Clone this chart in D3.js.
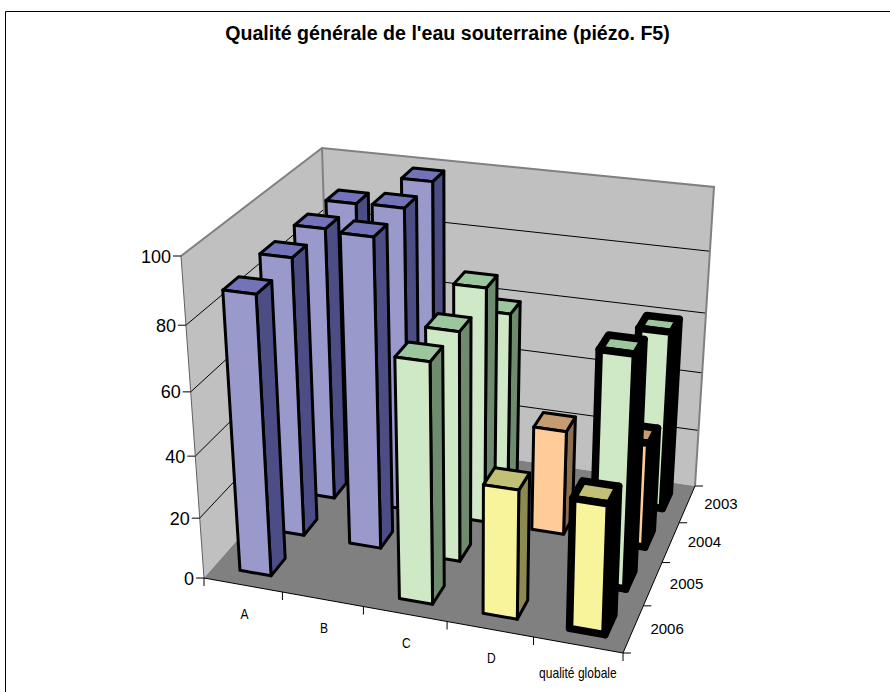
<!DOCTYPE html>
<html>
<head>
<meta charset="utf-8">
<script src="https://cdnjs.cloudflare.com/ajax/libs/d3/7.8.5/d3.min.js"></script>
<style>
html,body{margin:0;padding:0;background:#fff}
svg{display:block}
text{font-family:"Liberation Sans",Arial,sans-serif;fill:#000}
</style>
</head>
<body>
<svg id="chart"></svg>
<script>
const width = 890, height = 692;

const title = "Qualité générale de l'eau souterraine (piézo. F5)";
const categories = ['A', 'B', 'C', 'D', 'qualité globale'];
const years = ['2006', '2005', '2004', '2003'];   // front to back
const valueTicks = [0, 20, 40, 60, 80, 100];

// one value per category, null = no bar
const values2003 = [89.5, 99, 59.5, null, 60];
const values2004 = [90, 99, 77.5, 35, 35];
const values2005 = [90, 99, 74, null, 74];
const values2006 = [88.5, null, 75.5, 41, 41];

// water quality class per category
const class2003 = ['bleu', 'bleu', 'vert', null, 'vert'];
const class2004 = ['bleu', 'bleu', 'vert', 'orange', 'orange'];
const class2005 = ['bleu', 'bleu', 'vert', null, 'vert'];
const class2006 = ['bleu', null, 'vert', 'jaune', 'jaune'];

const valuesByYear = {2003: values2003, 2004: values2004, 2005: values2005, 2006: values2006};
const classByYear = {2003: class2003, 2004: class2004, 2005: class2005, 2006: class2006};

const classes = ['bleu', 'vert', 'jaune', 'orange'];
const frontColor = d3.scaleOrdinal().domain(classes).range(['#9999cc', '#cfe8c6', '#f8f49c', '#ffcc99']);
const topColor = d3.scaleOrdinal().domain(classes).range(['#7373b9', '#9cc79e', '#c2c076', '#c49c70']);
const sideColor = d3.scaleOrdinal().domain(classes).range(['#4d4d85', '#6e8b6e', '#8c8a50', '#8c6e50']);

const svg = d3.select('#chart').attr('width', width).attr('height', height);

// the box: corners of the floor and of the 100 plane, as seen on screen
const floorQuad = [[204, 578], [623, 653], [695, 486], [331, 433]];
const topQuad = [[181, 256], [636, 312], [714, 187], [322, 148]];

// unit square -> quad
function homography(q) {
    const [p0, p1, p2, p3] = q;
    const dx1 = p1[0] - p2[0], dx2 = p3[0] - p2[0], sx = p0[0] - p1[0] + p2[0] - p3[0];
    const dy1 = p1[1] - p2[1], dy2 = p3[1] - p2[1], sy = p0[1] - p1[1] + p2[1] - p3[1];
    const den = dx1 * dy2 - dx2 * dy1;
    const g = (sx * dy2 - dx2 * sy) / den;
    const h = (dx1 * sy - sx * dy1) / den;
    const a = p1[0] - p0[0] + g * p1[0], b = p3[0] - p0[0] + h * p3[0], c = p0[0];
    const d = p1[1] - p0[1] + g * p1[1], e = p3[1] - p0[1] + h * p3[1], f = p0[1];
    return (u, v) => {
        const w = g * u + h * v + 1;
        return [(a * u + b * v + c) / w, (d * u + e * v + f) / w];
    };
}
const floorAt = homography(floorQuad);
const topAt = homography(topQuad);

// height foreshortening
const foreshorten = 1.095;
const valueScale = d3.scaleLinear().domain([0, 100]).range([0, 1]);
function project(u, v, value) {
    const t = valueScale(value);
    const f = t / (t + (1 - t) * foreshorten);
    const a = floorAt(u, v), b = topAt(u, v);
    return [a[0] + (b[0] - a[0]) * f, a[1] + (b[1] - a[1]) * f];
}

const uScale = d3.scaleBand().domain(categories).range([0, 1]).paddingInner(0.6).paddingOuter(0.3).align(0.55);
const vScale = d3.scaleBand().domain(years).range([0, 1]).paddingInner(0.58).paddingOuter(0.29);
const uStep = 1 / categories.length, vStep = 1 / years.length;

const poly = d3.line();
function face(pts) { return poly(pts) + 'Z'; }

// only the top and left sides of the outer frame fall inside the picture
svg.append('path').attr('fill', 'none').attr('stroke', '#000').attr('stroke-width', 1)
    .attr('d', 'M5.5,692V11.5H890');

svg.append('text').attr('x', 447.5).attr('y', 39.5).attr('text-anchor', 'middle')
    .attr('font-size', 19.6).attr('font-weight', 'bold').text(title);

// walls and floor
const wallG = svg.append('g');
wallG.append('path').attr('fill', '#c0c0c0')
    .attr('d', face([project(0, 0, 0), project(0, 1, 0), project(0, 1, 100), project(0, 0, 100)]));
wallG.append('path').attr('fill', '#c0c0c0')
    .attr('d', face([project(0, 1, 0), project(1, 1, 0), project(1, 1, 100), project(0, 1, 100)]));
wallG.append('path').attr('fill', '#808080')
    .attr('d', face([project(0, 0, 0), project(1, 0, 0), project(1, 1, 0), project(0, 1, 0)]));

wallG.selectAll('path.grid')
    .data(valueTicks.filter(d => d > 0 && d < 100))
    .enter()
    .append('path')
    .attr('class', 'grid')
    .attr('fill', 'none')
    .attr('stroke', '#000')
    .attr('stroke-width', 1)
    .attr('d', d => poly([project(0, 0, d), project(0, 1, d), project(1, 1, d)]));

// grey frame of the walls
wallG.append('path').attr('fill', 'none').attr('stroke', '#808080').attr('stroke-width', 2)
    .attr('d', poly([project(0, 0, 100), project(0, 1, 100), project(1, 1, 100), project(1, 1, 0)]));
wallG.append('path').attr('fill', 'none').attr('stroke', '#808080').attr('stroke-width', 2)
    .attr('d', poly([project(0, 1, 100), project(0, 1, 0)]));
wallG.append('path').attr('fill', 'none').attr('stroke', '#606060').attr('stroke-width', 1)
    .attr('d', poly([project(0, 0, 100), project(0, 0, 0)]));

// axis lines
const axisG = svg.append('g').attr('fill', 'none').attr('stroke', '#000').attr('stroke-width', 1);
axisG.append('path').attr('d', poly([project(0, 0, 0), project(1, 0, 0), project(1, 1, 0)]));

// value ticks
valueTicks.forEach(function(d) {
    const p = project(0, 0, d);
    axisG.append('line').attr('x1', p[0] - 8).attr('x2', p[0]).attr('y1', p[1]).attr('y2', p[1]);
    svg.append('text').attr('x', p[0] - 10).attr('y', p[1] + 6.5).attr('text-anchor', 'end')
        .attr('font-size', 18).text(d);
});

// category ticks
d3.range(categories.length + 1).forEach(function(i) {
    const p = project(i * uStep, 0, 0);
    axisG.append('line').attr('x1', p[0]).attr('x2', p[0]).attr('y1', p[1]).attr('y2', p[1] + 8);
});
categories.forEach(function(d, i) {
    const p = project((i + 0.5) * uStep, 0, 0);
    const last = i == categories.length - 1;
    // the labels are a little condensed in the original
    svg.append('text')
        .attr('transform', `translate(${p[0] + (last ? 0 : 1.5)},${p[1] + (last ? 33 : 34)}) scale(0.86,1)`)
        .attr('text-anchor', 'middle').attr('font-size', 14).text(d);
});

// depth ticks
d3.range(years.length + 1).forEach(function(i) {
    const p = project(1, i * vStep, 0);
    axisG.append('line').attr('x1', p[0]).attr('x2', p[0] + 8).attr('y1', p[1]).attr('y2', p[1]);
});
years.forEach(function(d, i) {
    const p = project(1, (i + 0.5) * vStep, 0);
    svg.append('text').attr('x', p[0] + 17).attr('y', p[1] + 5).attr('font-size', 15).text(d);
});

// bars, back row first
const bars = [];
years.slice().reverse().forEach(function(year) {
    categories.forEach(function(cat, i) {
        const value = valuesByYear[year][i];
        if (value != null) bars.push({cat: cat, year: year, value: value, cls: classByYear[year][i]});
    });
});

const barG = svg.selectAll('g.bar')
    .data(bars)
    .enter()
    .append('g')
    .attr('class', 'bar')
    .attr('stroke', '#000')
    .attr('stroke-linejoin', 'round')
    .attr('stroke-width', d => d.cat == 'qualité globale' ? 7.5 : 3);

function corners(d) {
    const u0 = uScale(d.cat), u1 = u0 + uScale.bandwidth();
    const v0 = vScale(d.year), v1 = v0 + vScale.bandwidth();
    return {u0: u0, u1: u1, v0: v0, v1: v1};
}
barG.append('path')
    .attr('fill', d => d.cat == 'qualité globale' ? '#000' : sideColor(d.cls))
    .attr('d', function(d) {
        const c = corners(d);
        return face([project(c.u1, c.v0, 0), project(c.u1, c.v1, 0), project(c.u1, c.v1, d.value), project(c.u1, c.v0, d.value)]);
    });
barG.append('path')
    .attr('fill', d => topColor(d.cls))
    .attr('d', function(d) {
        const c = corners(d);
        return face([project(c.u0, c.v0, d.value), project(c.u1, c.v0, d.value), project(c.u1, c.v1, d.value), project(c.u0, c.v1, d.value)]);
    });
barG.append('path')
    .attr('fill', d => frontColor(d.cls))
    .attr('d', function(d) {
        const c = corners(d);
        return face([project(c.u0, c.v0, 0), project(c.u1, c.v0, 0), project(c.u1, c.v0, d.value), project(c.u0, c.v0, d.value)]);
    });
</script>
</body>
</html>
